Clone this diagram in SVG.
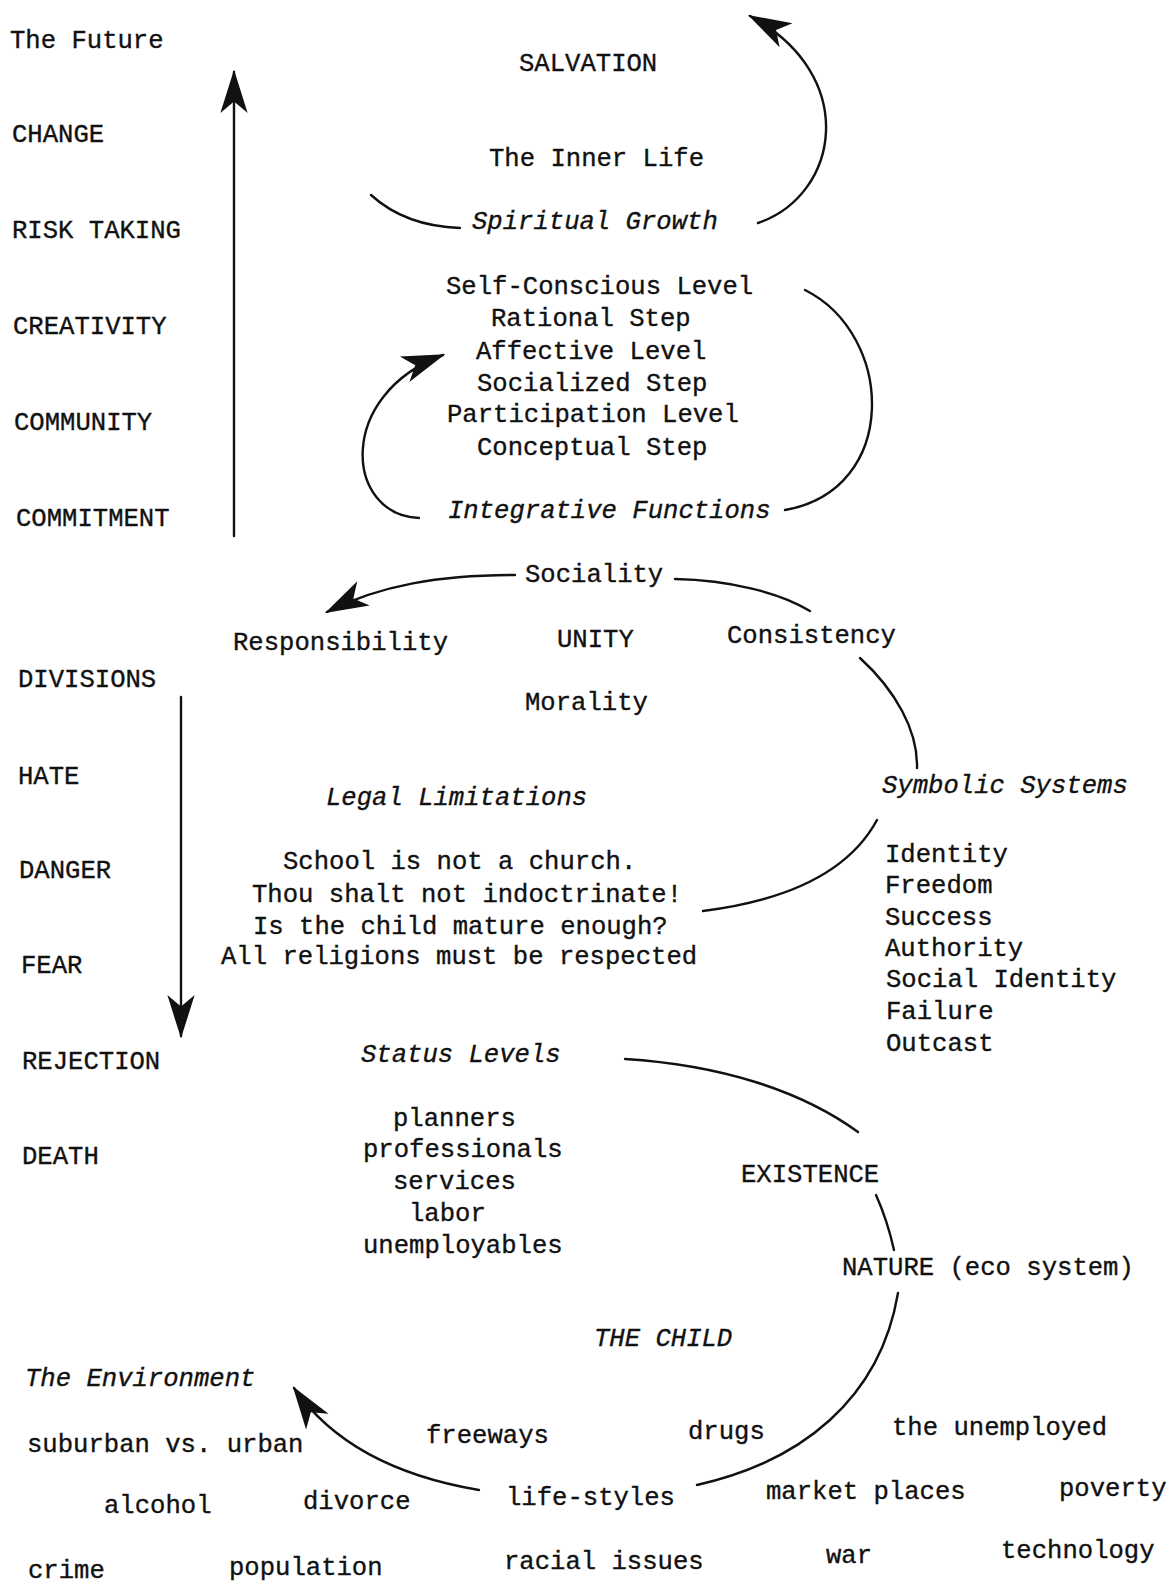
<svg xmlns="http://www.w3.org/2000/svg" width="1171" height="1584" viewBox="0 0 1171 1584">
<style>
text{font-family:"Liberation Mono","Courier New",monospace;font-size:25.6px;fill:#111;stroke:#111;stroke-width:0.35;}
.it{font-style:italic;}
.c{fill:none;stroke:#111;stroke-width:2.4;stroke-linecap:round;}
</style>
<defs>
<marker id="ah" markerUnits="userSpaceOnUse" markerWidth="50" markerHeight="40" viewBox="-40 -15 44 30" refX="0" refY="0" orient="auto">
<path d="M2,0 L-36,-12 L-26,0 L-36,12 Z" fill="#111"/>
</marker>
</defs>
<rect width="1171" height="1584" fill="#fff"/>

<g id="connectors">
<path class="c" d="M234,536 L234,72" marker-end="url(#ah)"/>
<path class="c" d="M181,697 L181,1036" marker-end="url(#ah)"/>
<path class="c" d="M371,195 Q405,226 460,228"/>
<path class="c" d="M758,223 C 840,195 860,75 750,16" marker-end="url(#ah)"/>
<path class="c" d="M419,518 C 345,515 335,395 443,355" marker-end="url(#ah)"/>
<path class="c" d="M785,510 C 900,490 895,335 805,290"/>
<path class="c" d="M515,575 C 440,575 380,585 327,612" marker-end="url(#ah)"/>
<path class="c" d="M675,579 C 730,580 780,593 810,611"/>
<path class="c" d="M860,658 C 895,690 918,730 917,768"/>
<path class="c" d="M703,911 C 790,900 850,870 877,820"/>
<path class="c" d="M625,1059 C 720,1065 800,1090 858,1132"/>
<path class="c" d="M876,1195 C 885,1215 890,1232 894,1250"/>
<path class="c" d="M898,1293 C 880,1400 800,1462 697,1485"/>
<path class="c" d="M479,1490 C 390,1475 330,1440 294,1388" marker-end="url(#ah)"/>
</g>

<g id="n-future"><text x="10" y="48">The Future</text></g>
<g id="n-change"><text x="12" y="142">CHANGE</text></g>
<g id="n-risk"><text x="12" y="238">RISK TAKING</text></g>
<g id="n-creativity"><text x="13" y="334">CREATIVITY</text></g>
<g id="n-community"><text x="14" y="430">COMMUNITY</text></g>
<g id="n-commitment"><text x="16" y="526">COMMITMENT</text></g>
<g id="n-divisions"><text x="18" y="687">DIVISIONS</text></g>
<g id="n-hate"><text x="18" y="784">HATE</text></g>
<g id="n-danger"><text x="19" y="878">DANGER</text></g>
<g id="n-fear"><text x="21" y="973">FEAR</text></g>
<g id="n-rejection"><text x="22" y="1069">REJECTION</text></g>
<g id="n-death"><text x="22" y="1164">DEATH</text></g>

<g id="n-salvation"><text x="519" y="71">SALVATION</text></g>
<g id="n-inner"><text x="489" y="166">The Inner Life</text></g>
<g id="n-spiritual"><text class="it" x="472" y="229">Spiritual Growth</text></g>

<g id="n-levels">
<text x="446" y="294">Self-Conscious Level</text>
<text x="491" y="326">Rational Step</text>
<text x="476" y="359">Affective Level</text>
<text x="477" y="391">Socialized Step</text>
<text x="447" y="422">Participation Level</text>
<text x="477" y="455">Conceptual Step</text>
</g>
<g id="n-integrative"><text class="it" x="448" y="518">Integrative Functions</text></g>

<g id="n-sociality"><text x="525" y="582">Sociality</text></g>
<g id="n-responsibility"><text x="233" y="650">Responsibility</text></g>
<g id="n-unity"><text x="557" y="647">UNITY</text></g>
<g id="n-consistency"><text x="727" y="643">Consistency</text></g>
<g id="n-morality"><text x="525" y="710">Morality</text></g>

<g id="n-symbolic"><text class="it" x="882" y="793">Symbolic Systems</text></g>
<g id="n-symbols">
<text x="885" y="862">Identity</text>
<text x="885" y="893">Freedom</text>
<text x="885" y="925">Success</text>
<text x="885" y="956">Authority</text>
<text x="886" y="987">Social Identity</text>
<text x="886" y="1019">Failure</text>
<text x="886" y="1051">Outcast</text>
</g>

<g id="n-legal"><text class="it" x="326" y="805">Legal Limitations</text></g>
<g id="n-legal-list">
<text x="283" y="869">School is not a church.</text>
<text x="252" y="902">Thou shalt not indoctrinate!</text>
<text x="253" y="934">Is the child mature enough?</text>
<text x="221" y="964">All religions must be respected</text>
</g>

<g id="n-status"><text class="it" x="361" y="1062">Status Levels</text></g>
<g id="n-status-list">
<text x="393" y="1126">planners</text>
<text x="363" y="1157">professionals</text>
<text x="393" y="1189">services</text>
<text x="409" y="1221">labor</text>
<text x="363" y="1253">unemployables</text>
</g>

<g id="n-existence"><text x="741" y="1182">EXISTENCE</text></g>
<g id="n-nature"><text x="842" y="1275">NATURE (eco system)</text></g>
<g id="n-child"><text class="it" x="594" y="1346">THE CHILD</text></g>
<g id="n-environment"><text class="it" x="25" y="1386">The Environment</text></g>

<g id="n-suburban"><text x="27" y="1452">suburban vs. urban</text></g>
<g id="n-freeways"><text x="426" y="1443">freeways</text></g>
<g id="n-drugs"><text x="688" y="1439">drugs</text></g>
<g id="n-unemployed"><text x="892" y="1435">the unemployed</text></g>
<g id="n-alcohol"><text x="104" y="1513">alcohol</text></g>
<g id="n-divorce"><text x="303" y="1509">divorce</text></g>
<g id="n-lifestyles"><text x="506" y="1505">life-styles</text></g>
<g id="n-market"><text x="766" y="1499">market places</text></g>
<g id="n-poverty"><text x="1059" y="1496">poverty</text></g>
<g id="n-crime"><text x="28" y="1578">crime</text></g>
<g id="n-population"><text x="229" y="1575">population</text></g>
<g id="n-racial"><text x="504" y="1569">racial issues</text></g>
<g id="n-war"><text x="826" y="1563">war</text></g>
<g id="n-technology"><text x="1001" y="1558">technology</text></g>
</svg>
